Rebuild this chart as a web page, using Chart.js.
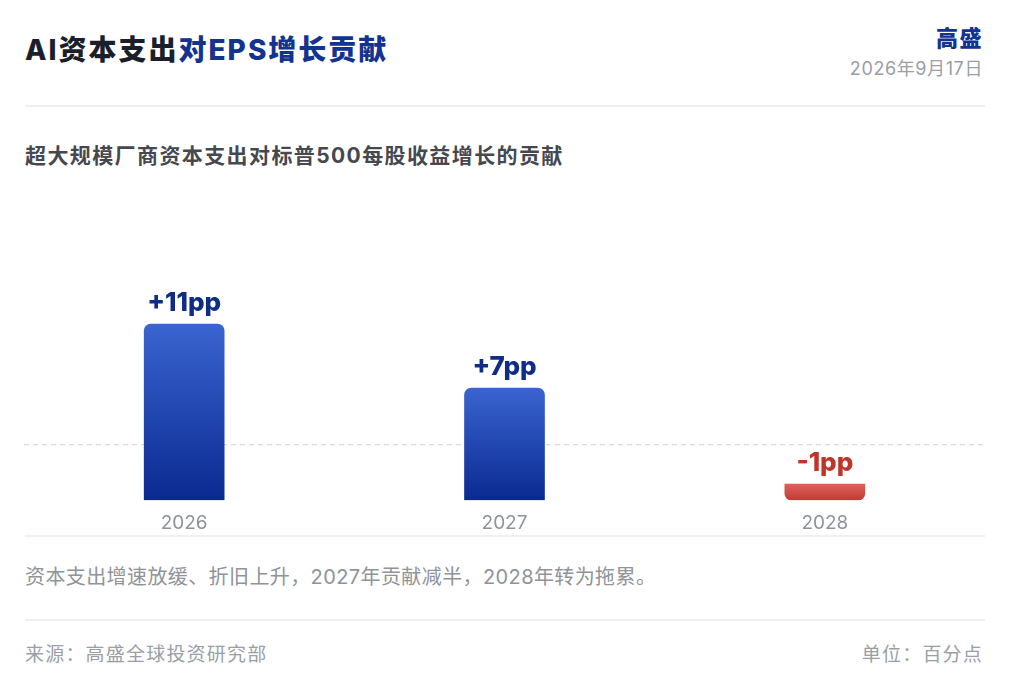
<!DOCTYPE html>
<html>
<head>
<meta charset="utf-8">
<script src="https://cdn.jsdelivr.net/npm/chart.js@4.4.1/dist/chart.umd.min.js"></script>
<style>
  html, body { margin:0; padding:0; background:#ffffff; }
  body { width:1014px; height:684px; position:relative; overflow:hidden;
         font-family: "Inter", "Noto Sans CJK SC", sans-serif; }
  .abs { position:absolute; white-space:nowrap; }
  #title { left:25px; top:32px; font-size:28px; line-height:36px; font-weight:800; color:#1b1f2b; letter-spacing:2px; }
  #title .hl { color:#12338f; }
  #brand { right:31px; top:24px; font-size:22px; line-height:28px; font-weight:800; color:#12338f; letter-spacing:1.5px; }
  #date { right:31px; top:57px; font-size:18px; line-height:24px; color:#9a9ea6; letter-spacing:0.6px; }
  .rule { position:absolute; left:25px; width:960px; height:2px; background:#eef0f3; }
  #subtitle { left:25px; top:142px; font-size:21px; line-height:28px; font-weight:700; color:#45484f; letter-spacing:1.4px; }
  #note { left:25px; top:563px; font-size:20px; line-height:28px; color:#8f939a; letter-spacing:0.4px; }
  #source { left:25px; top:642px; font-size:19px; line-height:26px; color:#9a9ea6; letter-spacing:1.2px; }
  #unit { right:31px; top:642px; font-size:19px; line-height:26px; color:#9a9ea6; letter-spacing:1.2px; }
  #chartBox { position:absolute; left:24px; top:212px; width:961px; height:335px; }
</style>
</head>
<body>
<div id="title" class="abs">AI资本支出<span class="hl">对EPS增长贡献</span></div>
<div id="brand" class="abs">高盛</div>
<div id="date" class="abs">2026年9月17日</div>
<div class="rule" style="top:105px"></div>
<div id="subtitle" class="abs">超大规模厂商资本支出对标普500每股收益增长的贡献</div>
<div id="chartBox"><canvas id="c"></canvas></div>
<div class="rule" style="top:535px"></div>
<div id="note" class="abs">资本支出增速放缓、折旧上升，2027年贡献减半，2028年转为拖累。</div>
<div class="rule" style="top:619px"></div>
<div id="source" class="abs">来源：高盛全球投资研究部</div>
<div id="unit" class="abs">单位：百分点</div>

<script>
// ---- data ----
const categories = ['2026', '2027', '2028'];
const values = [11, 7, -1];            // 百分点 (pp)
const guideValues = [3.5];             // dashed reference line
const yRange = [0, 18];

// ---- styling ----
const posTop = '#3a64d0', posBottom = '#0a2a90';
const negTop = '#db625c', negBottom = '#c43b32';
const posLabel = '#0f2c86', negLabel = '#c0352b';

function labelFor(v) { return (v > 0 ? '+' : '') + v + 'pp'; }

const valueLabels = {
  id: 'valueLabels',
  afterDatasetsDraw(chart) {
    const ctx = chart.ctx;
    const meta = chart.getDatasetMeta(0);
    meta.data.forEach((el, i) => {
      const v = values[i];
      ctx.save();
      ctx.font = '800 26px "Inter", "Noto Sans CJK SC", sans-serif';
      ctx.fillStyle = v >= 0 ? posLabel : negLabel;
      ctx.textAlign = 'center';
      ctx.textBaseline = 'middle';
      const top = Math.min(el.y, el.base);
      ctx.fillText(labelFor(v), el.x, top - 21);
      ctx.restore();
    });
  }
};

new Chart(document.getElementById('c'), {
  type: 'bar',
  data: {
    labels: categories,
    datasets: [{
      data: values.map(v => [0, Math.abs(v)]),
      barThickness: 80,
      borderSkipped: false,
      borderWidth: 0,
      borderRadius: (c) => values[c.dataIndex] >= 0
        ? { topLeft: 7, topRight: 7, bottomLeft: 0, bottomRight: 0 }
        : { topLeft: 0, topRight: 0, bottomLeft: 7, bottomRight: 7 },
      backgroundColor: (c) => {
        const chart = c.chart;
        const v = values[c.dataIndex];
        const y = chart.scales.y;
        if (!chart.chartArea || !y || v === undefined) return v >= 0 ? posBottom : negBottom;
        const top = y.getPixelForValue(Math.abs(v));
        const bot = y.getPixelForValue(0);
        const g = chart.ctx.createLinearGradient(0, top, 0, bot);
        if (v >= 0) { g.addColorStop(0, posTop); g.addColorStop(1, posBottom); }
        else { g.addColorStop(0, negTop); g.addColorStop(1, negBottom); }
        return g;
      }
    }]
  },
  options: {
    responsive: true,
    maintainAspectRatio: false,
    animation: false,
    layout: { padding: 0 },
    plugins: { legend: { display: false }, tooltip: { enabled: false } },
    scales: {
      x: {
        grid: { display: false, drawTicks: false, tickLength: 0 },
        border: { display: false },
        ticks: { color: '#8e9299', padding: 12,
                 font: { size: 19, family: '"Inter", "Noto Sans CJK SC", sans-serif' } }
      },
      y: {
        min: yRange[0], max: yRange[1],
        afterBuildTicks: (s) => { s.ticks = guideValues.map(v => ({ value: v })); },
        ticks: { display: false },
        border: { display: false, dash: [5, 4] },
        grid: { color: '#d6d9de', lineWidth: 1.2, drawTicks: false, tickLength: 0 },
      }
    }
  },
  plugins: [valueLabels]
});
</script>
</body>
</html>
